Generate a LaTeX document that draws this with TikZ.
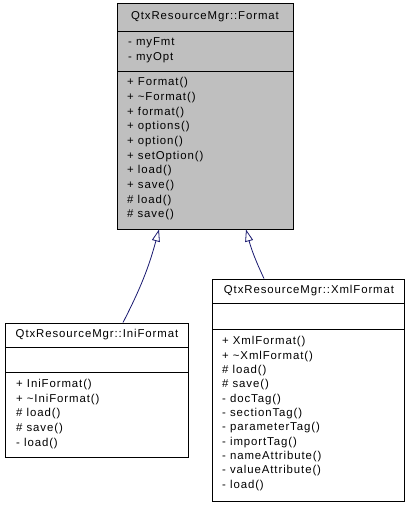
\documentclass[tikz,border=0pt]{standalone}
\usepackage{fontspec}
\setmainfont{Liberation Sans}[LetterSpace=8]
\usetikzlibrary{arrows.meta,calc}
\definecolor{boxgray}{HTML}{BFBFBF}
\definecolor{edgeblue}{HTML}{191970}
\begin{document}
\begin{tikzpicture}[x=1pt,y=-1pt,
  classbox/.style={draw=black,line width=0.9pt,rectangle,inner sep=0pt},
  divider/.style={draw=black,line width=0.9pt},
  member/.style={anchor=west,inner sep=0pt,font=\fontsize{11.4}{13}\selectfont,text height=8pt,text depth=2.5pt},
  ctitle/.style={anchor=center,inner sep=0pt,font=\fontsize{11.4}{13}\selectfont,text height=8pt,text depth=2.5pt},
  inherit/.style={draw=edgeblue,line width=0.8pt,-{Triangle[open,length=12pt,width=8pt,fill=white]}}
]
\useasboundingbox (0,0) rectangle (408,507);
% --- Format ---
\node[classbox,fill=boxgray,minimum width=176pt,minimum height=226pt] (format) at (205,116) {};
\draw[divider] (117,31) -- (293,31);
\draw[divider] (117,71) -- (293,71);
\node[ctitle] (formatT) at (205,17) {QtxResourceMgr::Format};
\node[member] (fa1) at (128,43) {- myFmt};
\node[member] (fa2) at (128,58) {- myOpt};
\foreach \t [count=\i] in {+ Format(),+ \textasciitilde Format(),+ format(),+ options(),+ option(),+ setOption(),+ load(),+ save(),\# load(),\# save()}
  \node[member] (fm\i) at (127,{83+(\i-1)*14.67}) {\t};
% --- IniFormat ---
\node[classbox,fill=white,minimum width=183pt,minimum height=134pt] (ini) at (96.5,390) {};
\draw[divider] (5,347) -- (188,347);
\draw[divider] (5,372) -- (188,372);
\node[ctitle] (iniT) at (97,335) {QtxResourceMgr::IniFormat};
\foreach \t [count=\i] in {+ IniFormat(),+ \textasciitilde IniFormat(),\# load(),\# save(),- load()}
  \node[member] (im\i) at (16,{385+(\i-1)*14.6}) {\t};
% --- XmlFormat ---
\node[classbox,fill=white,minimum width=192pt,minimum height=222pt] (xml) at (308,390) {};
\draw[divider] (212,303) -- (404,303);
\draw[divider] (212,329) -- (404,329);
\node[ctitle] (xmlT) at (309,291) {QtxResourceMgr::XmlFormat};
\foreach \t [count=\i] in {+ XmlFormat(),+ \textasciitilde XmlFormat(),\# load(),\# save(),- docTag(),- sectionTag(),- parameterTag(),- importTag(),- nameAttribute(),- valueAttribute(),- load()}
  \node[member] (xm\i) at (222,{342+(\i-1)*14.35}) {\t};
% --- inheritance ---
\draw[inherit] ([xshift=26.5pt]ini.north) to[bend right=6] ([xshift=-46pt]format.south);
\draw[inherit] ([xshift=-44pt]xml.north) to[bend left=5] ([xshift=41pt]format.south);
\end{tikzpicture}
\end{document}
